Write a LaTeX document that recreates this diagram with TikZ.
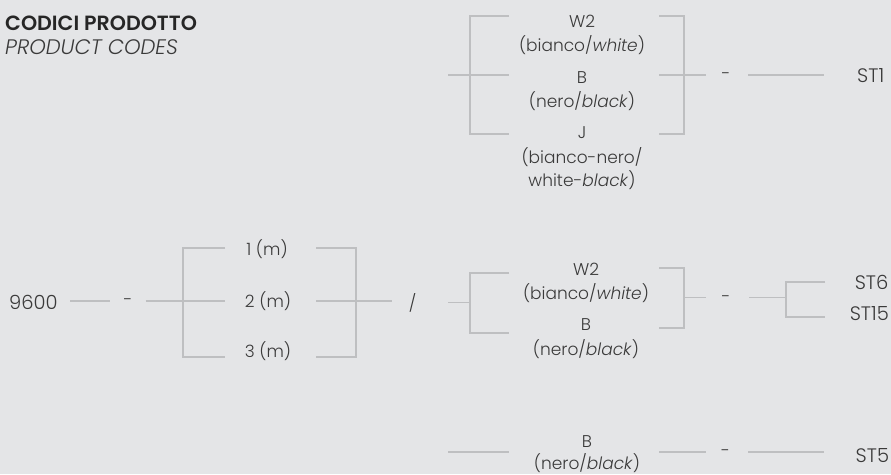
\documentclass[tikz,border=0pt]{standalone}
\usepackage{fontspec}
\IfFontExistsTF{Poppins Light}{%
  \IfFontExistsTF{Poppins SemiBold}{%
    \setmainfont{Poppins}[UprightFont=* Light,ItalicFont=* Light Italic,BoldFont=* SemiBold]%
  }{%
    \setmainfont{Poppins}[UprightFont=* Light,ItalicFont=* Light Italic,BoldFont=* Medium]%
  }%
}{%
  \setmainfont{Poppins}%
}
\definecolor{bgc}{HTML}{E4E5E7}
\definecolor{linec}{HTML}{BEBFC1}
\definecolor{txtc}{HTML}{3A3A3A}
\definecolor{titc}{HTML}{262626}
\tikzset{
  ln/.style={draw=linec,line width=1.3pt},
  lbl/.style={inner sep=0pt,anchor=base,text=txtc,font=\fontsize{17}{20}\selectfont},
  big/.style={inner sep=0pt,text=txtc,font=\fontsize{19.5}{23}\selectfont},
  dashtxt/.style={inner sep=0pt,anchor=north,text=txtc,font=\fontsize{17}{20}\selectfont},
}
\begin{document}
\begin{tikzpicture}[x=1pt,y=-1pt]
\useasboundingbox (0,0) rectangle (891,474);
\fill[bgc] (0,0) rectangle (891,474);

% title
\node[inner sep=0pt,anchor=base west,text=titc,font=\fontsize{20.6}{24}\selectfont\bfseries] (title) at (5,30) {CODICI PRODOTTO};
\node[inner sep=0pt,anchor=base west,text=txtc,font=\fontsize{21}{24}\selectfont\itshape] (subtitle) at (5,54) {PRODUCT CODES};

% ---------- top group ----------
\node[lbl] (tw2) at (582,27.3) {W2};
\node[lbl] (tw2b) at (582,51.3) {(bianco/\textit{white})};
\node[lbl] (tb) at (582,83.3) {B};
\node[lbl] (tbb) at (582,107.5) {(nero/\textit{black})};
\node[lbl] (tj) at (582,138) {J};
\node[lbl] (tjb) at (582,163) {(bianco-nero/};
\node[lbl] (tjc) at (582,186.5) {white-\textit{black})};

\coordinate (tin) at (448,75);
\coordinate (tl1) at (509,16); \coordinate (tl2) at (509,75); \coordinate (tl3) at (509,134);
\coordinate (tlx) at (470,0);
\coordinate (tr1) at (659,16); \coordinate (tr2) at (659,75); \coordinate (tr3) at (659,134);
\coordinate (trx) at (684,0);
\coordinate (tout) at (706,75);
\draw[ln] (tin) -- (tl2);
\draw[ln] (tl1) -- (tl1 -| tlx) -- (tl3 -| tlx) -- (tl3);
\draw[ln] (tr1) -- (tr1 -| trx) -- (tr3 -| trx) -- (tr3);
\draw[ln] (tr2) -- (tout);
\node[dashtxt] (tdash) at (726,72) {-};
\coordinate (ts1) at (748,75); \coordinate (ts2) at (824,75);
\draw[ln] (ts1) -- (ts2);
\node[big,anchor=base west] (st1) at (857,82.7) {ST1};

% ---------- middle group ----------
\node[big,anchor=base west] (n9600) at (9,309) {9600};
\coordinate (m1) at (70,301); \coordinate (m2) at (109.5,301);
\draw[ln] (m1) -- (m2);
\node[dashtxt] (mdash) at (128,298.5) {-};
\coordinate (m3) at (145.5,301);
\coordinate (ml1) at (225,248); \coordinate (ml2) at (225,301); \coordinate (ml3) at (225,357);
\coordinate (mlx) at (183,0);
\draw[ln] (m3) -- (ml2);
\draw[ln] (ml1) -- (ml1 -| mlx) -- (ml3 -| mlx) -- (ml3);
\node[lbl] (len1) at (267,255) {1 (m)};
\node[lbl] (len2) at (268,307.3) {2 (m)};
\node[lbl] (len3) at (268,357.3) {3 (m)};
\coordinate (mr1) at (316,248); \coordinate (mr2) at (316,301); \coordinate (mr3) at (316,357);
\coordinate (mrx) at (356,0);
\draw[ln] (mr1) -- (mr1 -| mrx) -- (mr3 -| mrx) -- (mr3);
\coordinate (mout) at (392,301);
\draw[ln] (mr2) -- (mout);
\node[lbl] (slash) at (412.5,309) {/};

\coordinate (c0) at (448,302.3);
\coordinate (cl1) at (509,273); \coordinate (cl3) at (509,333);
\coordinate (clx) at (470,0);
\draw[ln] (c0) -- (c0 -| clx);
\draw[ln] (cl1) -- (cl1 -| clx) -- (cl3 -| clx) -- (cl3);
\node[lbl] (cw2) at (586,275) {W2};
\node[lbl] (cw2b) at (586,299.5) {(bianco/\textit{white})};
\node[lbl] (cb) at (586,330.7) {B};
\node[lbl] (cbb) at (586,355) {(nero/\textit{black})};
\coordinate (cr1) at (659,268); \coordinate (cr3) at (659,328);
\coordinate (crx) at (684,0);
\draw[ln] (cr1) -- (cr1 -| crx) -- (cr3 -| crx) -- (cr3);
\coordinate (cr2) at (684,297.5); \coordinate (cout) at (706,297.5);
\draw[ln] (cr2) -- (cout);
\node[dashtxt] (cdash) at (726,295) {-};
\coordinate (s0) at (749,297.5); \coordinate (sx) at (786,0);
\coordinate (s1) at (825,282); \coordinate (s2) at (825,317);
\draw[ln] (s0) -- (s0 -| sx);
\draw[ln] (s1) -- (s1 -| sx) -- (s2 -| sx) -- (s2);
\node[big,anchor=base east] (st6) at (888.5,289.5) {ST6};
\node[big,anchor=base east] (st15) at (889,320) {ST15};

% ---------- bottom group ----------
\coordinate (b0) at (448,452); \coordinate (b1) at (509,452);
\draw[ln] (b0) -- (b1);
\node[lbl] (bb) at (587,447.5) {B};
\node[lbl] (bbb) at (587,469.5) {(nero/\textit{black})};
\coordinate (b2) at (659,452); \coordinate (b3) at (706,452);
\draw[ln] (b2) -- (b3);
\node[dashtxt] (bdash) at (725.5,449.5) {-};
\coordinate (b4) at (748,452); \coordinate (b5) at (824,452);
\draw[ln] (b4) -- (b5);
\node[big,anchor=base west] (st5) at (855.5,462) {ST5};
\end{tikzpicture}
\end{document}
